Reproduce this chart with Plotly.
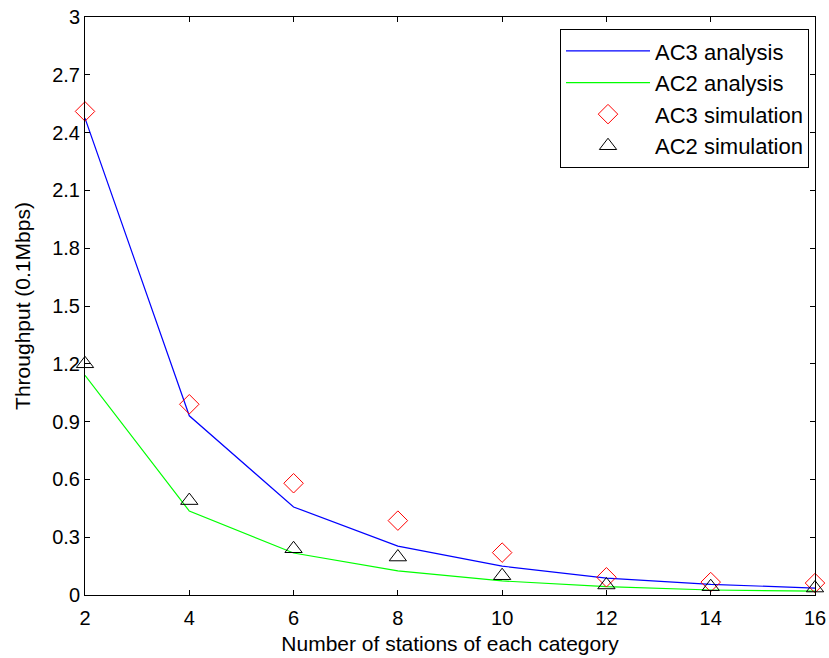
import plotly.graph_objects as go

stations = [2, 4, 6, 8, 10, 12, 14, 16]
ac3_analysis = [2.475, 0.93, 0.457, 0.254, 0.15, 0.088, 0.055, 0.036]
ac2_analysis = [1.14, 0.436, 0.218, 0.125, 0.073, 0.043, 0.026, 0.02]
ac3_simulation = [2.51, 0.99, 0.58, 0.386, 0.22, 0.092, 0.067, 0.062]
ac2_simulation = [1.20, 0.49, 0.24, 0.197, 0.10, 0.052, 0.043, 0.036]

x_ticks = [2, 4, 6, 8, 10, 12, 14, 16]
y_ticks = [0, 0.3, 0.6, 0.9, 1.2, 1.5, 1.8, 2.1, 2.4, 2.7, 3]
y_tick_labels = ["0", "0.3", "0.6", "0.9", "1.2", "1.5", "1.8", "2.1", "2.4", "2.7", "3"]

fig = go.Figure()
fig.add_trace(go.Scatter(x=stations, y=ac3_analysis, mode="lines", name="AC3 analysis",
                         legendgroup="a", cliponaxis=False,
                         line=dict(color="#0000ff", width=1.2)))
fig.add_trace(go.Scatter(x=stations, y=ac2_analysis, mode="lines", name="AC2 analysis",
                         legendgroup="b", cliponaxis=False,
                         line=dict(color="#00ff00", width=1.2)))
fig.add_trace(go.Scatter(x=stations, y=ac3_simulation, mode="markers", name="AC3 simulation",
                         legendgroup="c", cliponaxis=False,
                         marker=dict(symbol="diamond-open", color="#ff0000", size=15, line=dict(width=1))))
fig.add_trace(go.Scatter(x=stations, y=ac2_simulation, mode="markers", name="AC2 simulation",
                         legendgroup="d", cliponaxis=False,
                         marker=dict(symbol="triangle-up-open", color="#000000", size=15, line=dict(width=1))))

axis_common = dict(showline=True, linecolor="black", linewidth=1, mirror="ticks",
                   ticks="inside", ticklen=5, tickcolor="black", showgrid=False, zeroline=False,
                   automargin=False, ticklabeloverflow="allow",
                   tickfont=dict(family="Liberation Sans, Arial", size=20, color="black"))

fig.update_layout(
    width=829, height=658,
    margin=dict(l=85, r=14, t=17, b=63),
    paper_bgcolor="white", plot_bgcolor="white",
    font=dict(family="Liberation Sans, Arial", size=20, color="black"),
    xaxis=dict(range=[2, 16], tickvals=x_ticks, ticklabelstandoff=5,
               title=dict(text="Number of stations of each category", font=dict(size=21), standoff=8),
               **axis_common),
    yaxis=dict(range=[0, 3], tickvals=y_ticks, ticktext=y_tick_labels,
               title=dict(text="Throughput (0.1Mbps)", font=dict(size=21), standoff=15),
               **axis_common),
    legend=dict(x=0.9918, y=0.979, xanchor="right", yanchor="top",
                bordercolor="black", borderwidth=1, bgcolor="white",
                font=dict(size=22), tracegroupgap=0, itemwidth=84,
                traceorder="grouped"),
    showlegend=True,
    hovermode=False,
)

fig.write_html("out.html", config={"displayModeBar": False},
               post_script="document.body.style.margin='0';")
